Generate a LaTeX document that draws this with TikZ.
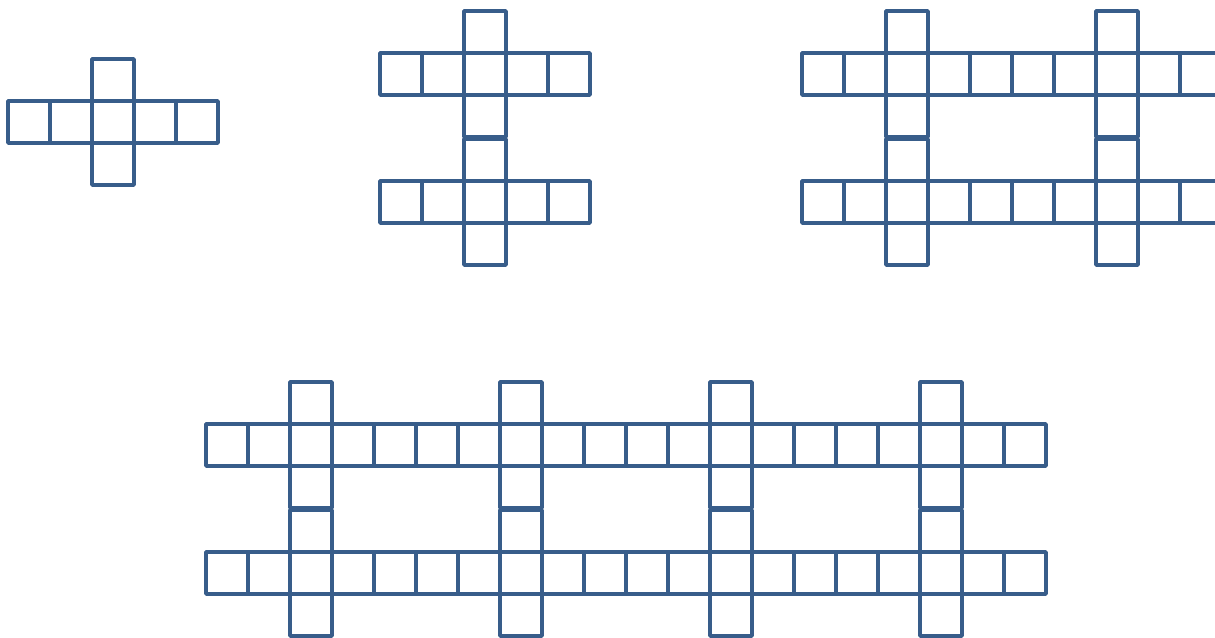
\documentclass[tikz,border=0pt]{standalone}
\definecolor{sq}{HTML}{385D8A}
\newcommand\sqrow[3]{\foreach \i in {1,...,#3}{\draw[sqs] ({#1+(\i-1)*42},#2) rectangle ++(42,42);}}
\newcommand\sqone[2]{\draw[sqs] (#1,#2) rectangle ++(42,42);}
\begin{document}
\begin{tikzpicture}[x=1pt,y=-1pt,sqs/.style={draw=sq,line width=3.5pt,line join=round}]
\useasboundingbox (0,0) rectangle (1215,637);
\clip (0,0) rectangle (1215,637);
% figure 1
\sqrow{8}{101}{5}
\sqone{92}{59}\sqone{92}{143}
% figure 2
\sqrow{380}{53}{5}\sqrow{380}{181}{5}
\foreach \t in {11,95,139,223}{\sqone{464}{\t}}
% figure 3
\sqrow{802}{53}{10}\sqrow{802}{181}{10}
\foreach \c in {886,1096}{\foreach \t in {11,95,139,223}{\sqone{\c}{\t}}}
% figure 4
\sqrow{206}{424}{20}\sqrow{206}{552}{20}
\foreach \c in {290,500,710,920}{\foreach \t in {382,466,510,594}{\sqone{\c}{\t}}}
\end{tikzpicture}
\end{document}
